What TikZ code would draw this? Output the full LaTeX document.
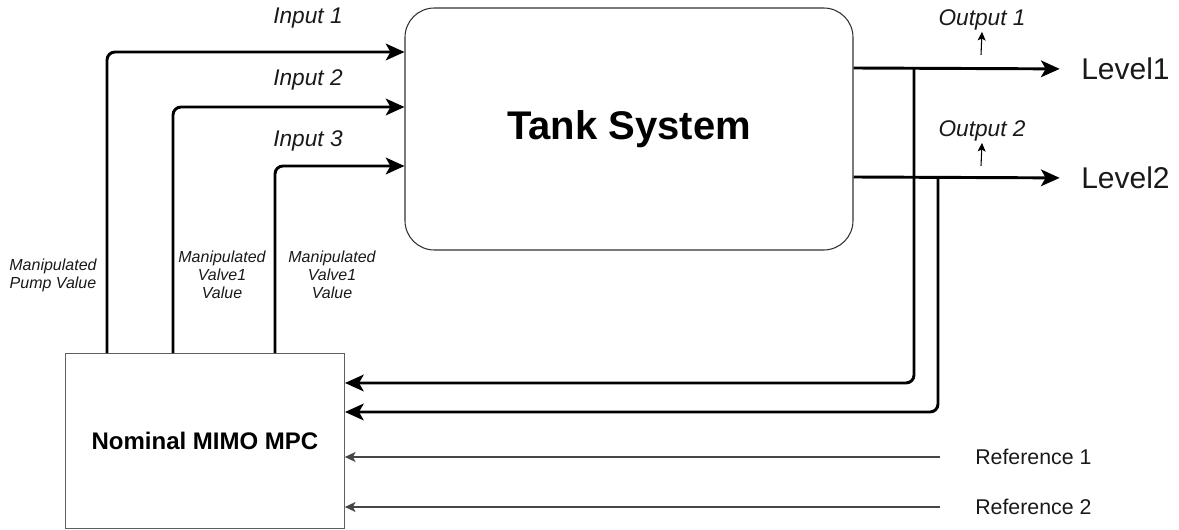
\documentclass[tikz,border=0pt]{standalone}
\usepackage{fontspec}
\setmainfont{Liberation Sans}
\usetikzlibrary{arrows.meta, calc}
\definecolor{boxcol}{RGB}{50,50,50}
\definecolor{mpccol}{RGB}{95,95,95}
\definecolor{sigcol}{RGB}{0,0,0}
\definecolor{refcol}{RGB}{70,70,70}
\definecolor{txtcol}{RGB}{25,25,25}

\begin{document}
\begin{tikzpicture}[
    x=0.75pt, y=-0.75pt,
    >=Stealth,
    sig/.style={sigcol, line width=2.2pt, rounded corners=6pt,
      -{Stealth[length=14pt, width=12.5pt, inset=3.5pt]}},
    refline/.style={refcol, line width=1pt,
      -{Stealth[length=8pt, width=7.5pt, inset=2pt]}},
    tick/.style={sigcol, line width=0.8pt,
      -{Stealth[length=6.5pt, width=6pt, inset=1.5pt]}},
    siglabel/.style={txtcol, inner sep=1pt, font=\itshape\fontsize{17}{20}\selectfont},
    manlabel/.style={txtcol, inner sep=0pt, align=center,
      font=\itshape\fontsize{12}{13.5}\selectfont},
    lvllabel/.style={txtcol, inner sep=0pt, anchor=west,
      font=\fontsize{22.5}{26}\selectfont},
    reflabel/.style={txtcol, inner sep=0pt, anchor=west,
      font=\fontsize{16}{19}\selectfont}
  ]

  \useasboundingbox (0,0) rectangle (1179,530);

  % --- blocks -----------------------------------------------------------
  \node[draw=boxcol, line width=0.8pt, rounded corners=22pt,
        minimum width=336pt, minimum height=181.5pt, inner sep=0pt,
        font=\bfseries\fontsize{30}{34}\selectfont]
        (tank) at (629,129) {Tank System};

  \node[draw=mpccol, line width=0.8pt,
        minimum width=209pt, minimum height=131pt, inner sep=0pt,
        font=\bfseries\fontsize{18}{21}\selectfont]
        (mpc) at (205,441) {Nominal MIMO MPC};

  % --- coordinates ------------------------------------------------------
  \coordinate (in1)  at (107,52);
  \coordinate (in2)  at (173,107);
  \coordinate (in3)  at (275,166);
  \coordinate (tap1) at (914,68);
  \coordinate (tap2) at (938,177);
  \coordinate (fb1)  at (345,383);
  \coordinate (fb2)  at (345,412);

  % --- labels -----------------------------------------------------------
  \node[siglabel] (lin1) at (308,18)  {Input 1};
  \node[siglabel] (lin2) at (308,80)  {Input 2};
  \node[siglabel] (lin3) at (308,141) {Input 3};

  \node[siglabel] (out1) at (982,20)  {Output 1};
  \node[siglabel] (out2) at (982,131) {Output 2};

  \node[manlabel] (mpump) at (53,275)  {Manipulated\\Pump Value};
  \node[manlabel] (mval1) at (222,275) {Manipulated\\Valve1\\Value};
  \node[manlabel] (mval2) at (332,275) {Manipulated\\Valve1\\Value};

  \node[lvllabel] (lvl1) at (1081,69)  {Level1};
  \node[lvllabel] (lvl2) at (1081,178) {Level2};

  \node[reflabel] (ref1) at (975,457) {Reference 1};
  \node[reflabel] (ref2) at (975,507) {Reference 2};

  % --- manipulated inputs -----------------------------------------------
  \draw[sig] (mpc.north -| in1) |- (tank.west |- in1);
  \draw[sig] (mpc.north -| in2) |- (tank.west |- in2);
  \draw[sig] (mpc.north -| in3) |- (tank.west |- in3);

  % --- outputs ----------------------------------------------------------
  \draw[sig, shorten >=16pt] (tank.east |- tap1) -- (lvl1.west);
  \draw[sig, shorten >=16pt] (tank.east |- tap2) -- (lvl2.west);

  \draw[tick] ($(out1.south)+(-1,23)$) -- (out1.south);
  \draw[tick] ($(out2.south)+(-1,23)$) -- (out2.south);

  % --- feedback ---------------------------------------------------------
  \draw[sig] (tap1) |- (fb1);
  \draw[sig] (tap2) |- (fb2);

  % --- references -------------------------------------------------------
  \draw[refline, shorten <=26pt] (ref1.west) -- (mpc.east |- ref1);
  \draw[refline, shorten <=26pt] (ref2.west) -- (mpc.east |- ref2);

\end{tikzpicture}
\end{document}
